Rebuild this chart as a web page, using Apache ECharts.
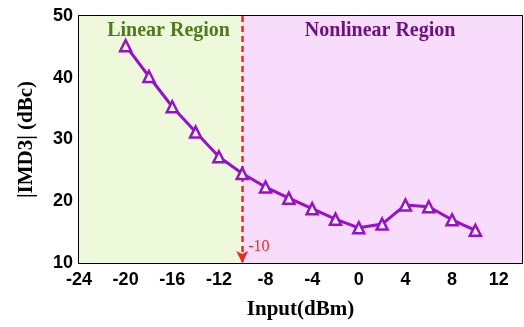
<!DOCTYPE html>
<html>
<head>
<meta charset="utf-8">
<script src="https://cdn.jsdelivr.net/npm/echarts@6/dist/echarts.min.js"></script>
<style>html,body{margin:0;padding:0;background:#fff}#c{width:524px;height:327px}</style>
</head>
<body>
<div id="c"></div>
<script>
const inputs = [-20, -18, -16, -14, -12, -10, -8, -6, -4, -2, 0, 2, 4, 6, 8, 10];
const imd3 = [45.2, 40.2, 35.3, 31.2, 27.2, 24.5, 22.3, 20.5, 18.8, 17.1, 15.7, 16.3, 19.4, 19.1, 17.0, 15.3];
const regionNames = ['Linear Region', 'Nonlinear Region'];
const boundary = -10;
const boundaryLabel = '-10';

const chart = echarts.init(document.getElementById('c'));
const serif = '"Liberation Serif","Times New Roman",serif';
const sans = '"Liberation Sans",Arial,sans-serif';
chart.setOption({
  animation: false,
  grid: {left: 79, right: 2, top: 16, bottom: 64, show: true, borderColor: '#000', borderWidth: 2, backgroundColor: 'transparent'},
  xAxis: {
    type: 'value', min: -24, max: 14, interval: 4,
    name: 'Input(dBm)', nameLocation: 'middle', nameGap: 36,
    nameTextStyle: {fontFamily: serif, fontWeight: 'bold', fontSize: 21, color: '#000'},
    axisLine: {show: true, lineStyle: {color: '#000', width: 2}},
    axisTick: {show: true, inside: true, length: 6, lineStyle: {color: '#000', width: 1.5}},
    minorTick: {show: true, splitNumber: 2, length: 4, lineStyle: {color: '#000', width: 1.5}},
    axisLabel: {showMaxLabel: false, fontFamily: sans, fontWeight: 'bold', fontSize: 18, color: '#000', margin: 8},
    splitLine: {show: false}
  },
  yAxis: {
    type: 'value', min: 10, max: 50, interval: 10,
    name: '|IMD3| (dBc)', nameLocation: 'middle', nameGap: 42,
    nameTextStyle: {fontFamily: serif, fontWeight: 'bold', fontSize: 21, color: '#000'},
    axisLine: {show: true, lineStyle: {color: '#000', width: 2}},
    axisTick: {show: true, inside: true, length: 6, lineStyle: {color: '#000', width: 1.5}},
    minorTick: {show: true, splitNumber: 2, length: 4, lineStyle: {color: '#000', width: 1.5}},
    axisLabel: {fontFamily: sans, fontWeight: 'bold', fontSize: 18, color: '#000', margin: 6},
    splitLine: {show: false}
  },
  series: [{
    type: 'line',
    data: inputs.map((x, i) => [x, imd3[i]]),
    symbol: 'triangle', symbolSize: 11,
    lineStyle: {color: '#9a0fcb', width: 3},
    itemStyle: {color: '#ffffff', borderColor: '#9a0fcb', borderWidth: 2.5},
    z: 5,
    markArea: {
      silent: true,
      data: [
        [{xAxis: -24, yAxis: 10, itemStyle: {color: '#eef8db'},
          label: {show: true, position: 'insideTop', distance: 5, offset: [8, 0], formatter: regionNames[0],
                  fontFamily: serif, fontWeight: 'bold', fontSize: 20, color: '#4f7a20'}},
         {xAxis: boundary, yAxis: 50}],
        [{xAxis: boundary, yAxis: 10, itemStyle: {color: '#f7dcfc'},
          label: {show: true, position: 'insideTop', distance: 5, offset: [-2, 0], formatter: regionNames[1],
                  fontFamily: serif, fontWeight: 'bold', fontSize: 20, color: '#6b1185'}},
         {xAxis: 14, yAxis: 50}]
      ]
    },
    markLine: {
      silent: true,
      symbol: ['none', 'arrow'], symbolSize: [9, 12],
      lineStyle: {color: '#ff2020', width: 2.5, type: [6, 4]},
      label: {show: false},
      data: [[{coord: [boundary, 50]}, {coord: [boundary, 10]}]]
    },
    markPoint: {
      silent: true,
      symbol: 'circle', symbolSize: 0,
      data: [{coord: [boundary, 12.7], value: boundaryLabel,
              label: {show: true, position: 'right', distance: 6, formatter: boundaryLabel,
                      fontFamily: serif, fontSize: 16, color: '#ff2020'}}]
    }
  }]
});
</script>
</body>
</html>
